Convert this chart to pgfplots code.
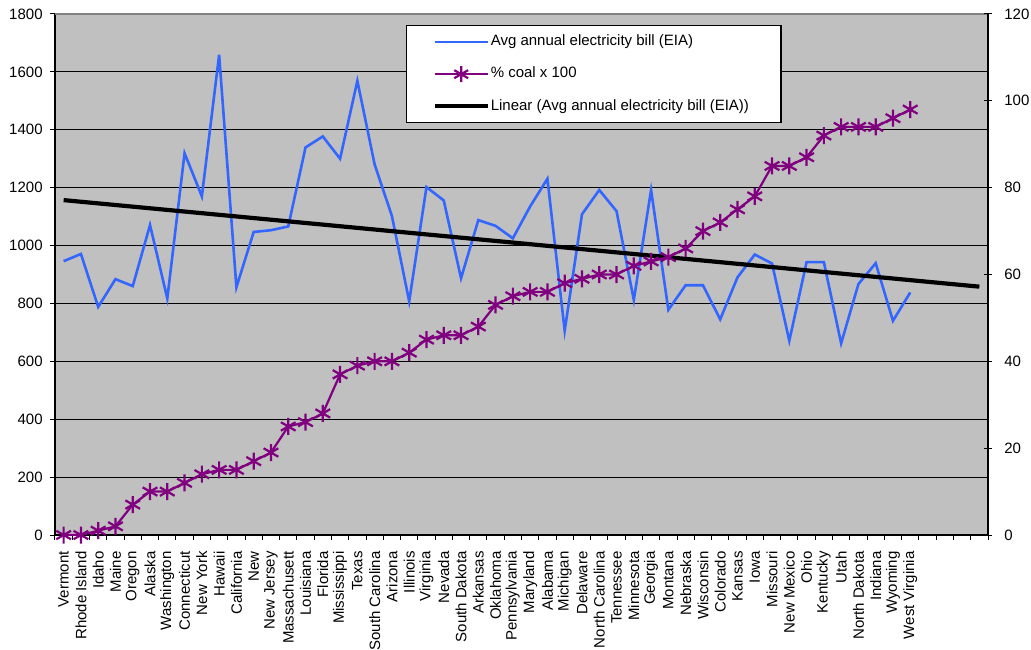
\documentclass[border=0pt]{standalone}
\usepackage{pgfplots}
\pgfplotsset{compat=1.18}
\usepackage{pgfplotstable}
\usepackage{fontspec}
\setmainfont{Liberation Sans}

\definecolor{billblue}{HTML}{3366FF}
\definecolor{coalpurple}{HTML}{800080}
\definecolor{plotgray}{HTML}{C0C0C0}
\definecolor{framegray}{HTML}{808080}

% state index, average annual electricity bill (USD), share of coal (%)
\pgfplotstableread{
x  bill coal
1  946  0
2  971  0
3  788  1
4  884  2
5  860  7
6  1071 10
7  817  10
8  1319 12
9  1170 14
10 1659 15
11 856  15
12 1047 17
13 1053 19
14 1066 25
15 1339 26
16 1377 28
17 1300 37
18 1569 39
19 1280 40
20 1102 40
21 807  42
22 1202 45
23 1156 46
24 887  46
25 1088 48
26 1068 53
27 1025 55
28 1135 56
29 1231 56
30 706  58
31 1108 59
32 1192 60
33 1119 60
34 812  62
35 1192 63
36 778  64
37 863  66
38 863  70
39 745  72
40 890  75
41 969  78
42 938  85
43 671  85
44 943  87
45 943  92
46 662  94
47 867  94
48 939  94
49 740  96
50 838  98
}\statedata

\newcommand{\chartfont}{\fontsize{7.5}{9}\selectfont}

\pgfplotsset{
  chartframe/.style={
    scale only axis,
    width=466.5pt, height=260.5pt,
    at={(27.5pt,57pt)}, anchor=south west,
    xmin=0.5, xmax=54.5,
    tick label style={font=\chartfont},
    /pgf/number format/assume math mode=true,
    /pgf/number format/1000 sep={},
  },
}

\begin{document}
\begin{tikzpicture}[x=1pt,y=1pt]
\useasboundingbox (0,0) rectangle (515.5,324.5);

\begin{axis}[
  chartframe,
  ymin=0, ymax=1800,
  ytick={0,200,...,1800},
  axis background/.style={fill=plotgray},
  axis line style={black, line width=0.7pt},
  ymajorgrids,
  major grid style={black, line width=0.5pt},
  tick align=outside,
  xtick pos=bottom, ytick pos=left,
  major tick length=2.5pt, minor tick length=2.5pt,
  tick style={black, line width=0.5pt},
  xtick={1,...,50},
  major x tick style={draw=none},
  minor xtick={0.5,1.5,...,54.5},
  xticklabels={Vermont,Rhode Island,Idaho,Maine,Oregon,Alaska,Washington,Connecticut,New York,Hawaii,California,New,New Jersey,Massachusett,Louisiana,Florida,Mississippi,Texas,South Carolina,Arizona,Illinois,Virginia,Nevada,South Dakota,Arkansas,Oklahoma,Pennsylvania,Maryland,Alabama,Michigan,Delaware,North Carolina,Tennessee,Minnesota,Georgia,Montana,Nebraska,Wisconsin,Colorado,Kansas,Iowa,Missouri,New Mexico,Ohio,Kentucky,Utah,North Dakota,Indiana,Wyoming,West Virginia},
  xticklabel style={rotate=90, anchor=east, inner sep=0pt},
  xticklabel shift=5.5pt,
  yticklabel style={inner sep=0pt},
  yticklabel shift=3.5pt,
  legend cell align=left,
  legend style={
    at={(0.3762,0.9789)}, anchor=north west,
    draw=black, fill=white, line width=0.6pt,
    font=\chartfont,
    inner xsep=13pt, inner ysep=4.6pt,
    row sep=8.5pt, column sep=0.5pt,
    nodes={inner sep=0pt, text height=5.5pt, text depth=1.7pt},
  },
  legend image code/.code={%
    \draw[mark repeat=2, mark phase=2, #1]
      plot coordinates {(0pt,0pt) (13.25pt,0pt) (26.5pt,0pt)};},
]
\addplot[billblue, line width=1.3pt] table[x=x, y=bill] {\statedata};
\addlegendentry{Avg annual electricity bill (EIA)}
\addlegendimage{coalpurple, line width=1.1pt, mark=asterisk, mark size=4pt}
\addlegendentry{\% coal x 100}
% least-squares trend of the bill series, carried to the last slot
\addplot[black, line width=2.1pt] coordinates {(1,1157) (54,858)};
\addlegendentry{Linear (Avg annual electricity bill (EIA))\hspace*{3pt}}
\draw[framegray, line width=1pt] (rel axis cs:0,1) -- (rel axis cs:1,1);
\end{axis}

\begin{axis}[
  chartframe,
  axis x line=none,
  axis y line*=right,
  ymin=0, ymax=120,
  ytick={0,20,...,120},
  y axis line style={black, line width=0.7pt},
  tick align=center,
  major tick length=4pt,
  tick style={black, line width=0.5pt},
  yticklabel style={inner sep=0pt},
  yticklabel shift=6pt,
]
\addplot[coalpurple, line width=1.1pt, mark=asterisk, mark size=4.25pt,
  mark options={line width=1.1pt}] table[x=x, y=coal] {\statedata};
\end{axis}
\end{tikzpicture}
\end{document}
